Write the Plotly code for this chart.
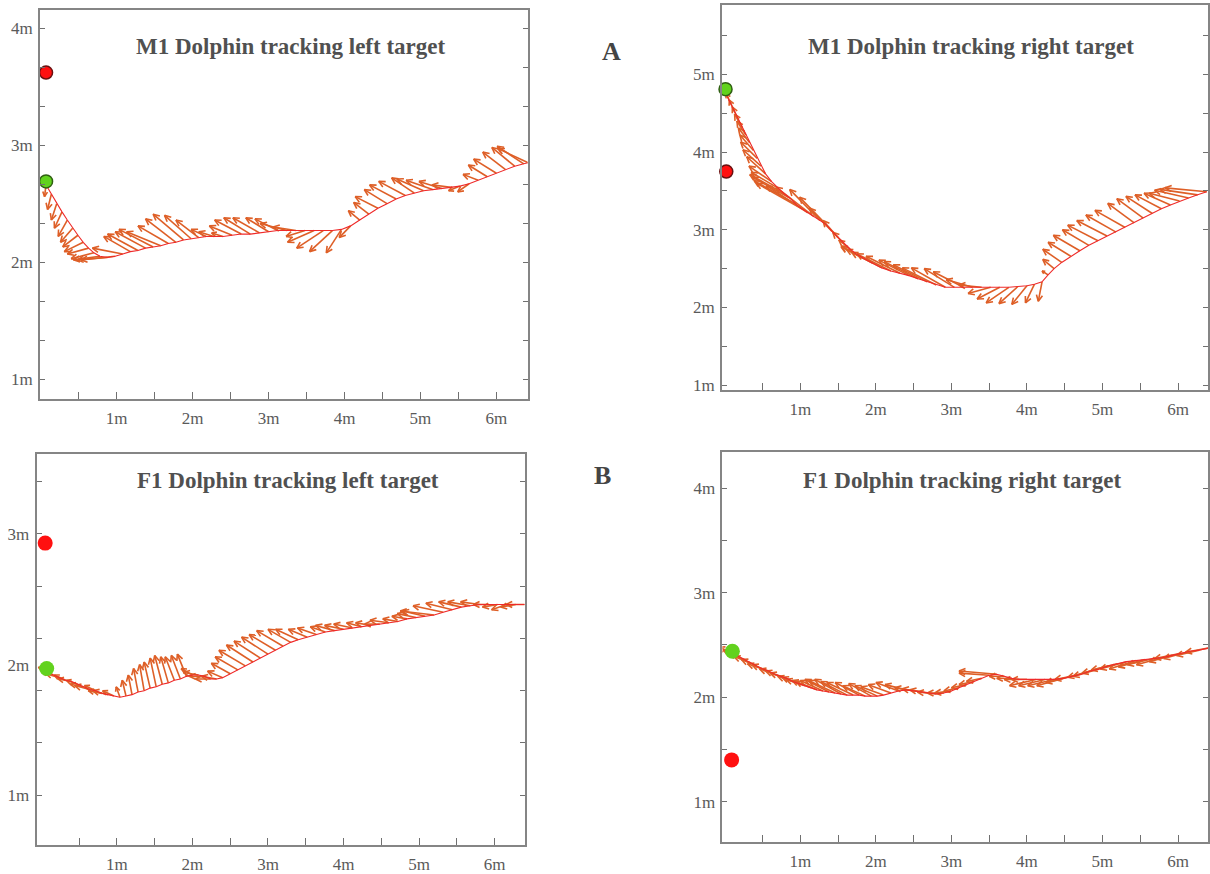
import math
import plotly.graph_objects as go

# ---------------- DATA ----------------
# Panel A-left: M1 Dolphin tracking left target
m1l_x = [0.07,0.14,0.21,0.28,0.35,0.42,0.49,0.56,0.63,0.70,0.78,0.88,0.98,1.08,1.18,1.28,1.38,1.48,1.58,1.68,
         1.78,1.88,1.98,2.08,2.18,2.28,2.40,2.52,2.64,2.76,2.88,3.00,3.12,3.24,3.36,3.48,3.60,3.72,3.84,3.96,
         4.08,4.20,4.32,4.44,4.56,4.68,4.80,4.92,5.04,5.16,5.28,5.40,5.52,5.64,5.76,5.88,6.00,6.12,6.24,6.36,6.42]
m1l_y = [2.66,2.58,2.50,2.43,2.36,2.29,2.23,2.17,2.12,2.08,2.05,2.04,2.05,2.07,2.09,2.10,2.12,2.13,2.14,2.16,
         2.17,2.19,2.20,2.21,2.22,2.22,2.22,2.23,2.24,2.24,2.25,2.26,2.27,2.27,2.27,2.27,2.27,2.27,2.27,2.28,
         2.31,2.36,2.41,2.46,2.50,2.54,2.57,2.59,2.61,2.62,2.63,2.64,2.65,2.67,2.70,2.73,2.76,2.79,2.82,2.84,2.85]
m1l_u = [-0.02,-0.05,-0.07,-0.10,-0.12,-0.16,-0.20,-0.25,-0.28,-0.30,-0.35,-0.40,-0.45,-0.40,-0.35,-0.40,-0.40,-0.45,-0.45,-0.40,
         -0.40,-0.40,-0.35,-0.30,-0.20,-0.20,-0.15,-0.30,-0.35,-0.35,-0.35,-0.30,-0.30,-0.35,-0.30,-0.25,-0.35,-0.35,-0.30,-0.20,
         -0.15,-0.15,-0.20,-0.30,-0.30,-0.35,-0.35,-0.30,-0.35,-0.35,-0.30,-0.25,-0.15,-0.15,-0.20,-0.25,-0.30,-0.30,-0.30,-0.35,-0.40]
m1l_v = [-0.10,-0.13,-0.14,-0.14,-0.14,-0.12,-0.10,-0.08,-0.05,-0.05,-0.03,-0.02,-0.03,0.05,0.13,0.14,0.14,0.15,0.12,0.15,
         0.20,0.22,0.20,0.15,0.06,0.04,0.03,0.08,0.12,0.14,0.13,0.12,0.10,0.06,0.03,-0.05,-0.10,-0.15,-0.18,-0.20,
         -0.10,0.08,0.10,0.10,0.12,0.12,0.12,0.13,0.10,0.08,0.06,0.02,-0.04,-0.07,0.05,0.10,0.12,0.15,0.16,0.15,0.12]
m1l_start = (0.07, 2.69)
m1l_target = (0.07, 3.62)

# Panel A-right: M1 Dolphin tracking right target
m1r_x = [0.03,0.08,0.13,0.18,0.23,0.28,0.33,0.38,0.43,0.48,0.54,0.62,0.70,0.78,0.86,0.94,1.02,1.10,1.18,1.26,
         1.34,1.42,1.50,1.58,1.66,1.74,1.84,1.96,2.08,2.20,2.32,2.44,2.56,2.68,2.80,2.92,3.04,3.16,3.28,3.40,
         3.52,3.64,3.76,3.88,4.00,4.10,4.20,4.28,4.36,4.46,4.58,4.70,4.82,4.94,5.06,5.18,5.30,5.42,5.54,5.66,
         5.78,5.90,6.02,6.14,6.26,6.38]
m1r_y = [4.72,4.62,4.52,4.42,4.32,4.22,4.12,4.02,3.92,3.82,3.72,3.62,3.54,3.47,3.41,3.33,3.27,3.22,3.17,3.12,
         3.07,2.98,2.90,2.82,2.75,2.69,2.63,2.57,2.51,2.47,2.44,2.41,2.37,2.33,2.29,2.26,2.26,2.26,2.26,2.26,
         2.26,2.26,2.26,2.27,2.28,2.30,2.33,2.42,2.50,2.58,2.66,2.73,2.80,2.86,2.92,2.97,3.03,3.09,3.15,3.21,
         3.27,3.32,3.37,3.41,3.45,3.49]
m1r_u = [-0.05,-0.06,-0.07,-0.08,-0.10,-0.12,-0.15,-0.18,-0.22,-0.24,-0.25,-0.30,-0.35,-0.45,-0.50,-0.55,-0.60,-0.55,-0.50,-0.40,
         -0.35,-0.30,-0.20,-0.15,-0.15,-0.20,-0.30,-0.35,-0.40,-0.45,-0.45,-0.40,-0.45,-0.45,-0.45,-0.45,-0.40,-0.40,-0.35,-0.30,
         -0.30,-0.30,-0.30,-0.25,-0.20,-0.12,-0.05,-0.08,-0.15,-0.25,-0.30,-0.35,-0.35,-0.40,-0.40,-0.40,-0.40,-0.35,-0.35,-0.35,
         -0.35,-0.35,-0.40,-0.45,-0.50,-0.55]
m1r_v = [0.12,0.14,0.15,0.16,0.17,0.18,0.19,0.20,0.21,0.21,0.22,0.20,0.20,0.24,0.27,0.30,0.33,0.35,0.38,0.40,
         0.35,0.30,0.22,0.15,0.12,0.10,0.15,0.18,0.20,0.22,0.22,0.20,0.22,0.22,0.22,0.25,0.24,0.20,0.10,0.03,
         -0.08,-0.15,-0.20,-0.22,-0.24,-0.24,-0.25,0.05,0.12,0.17,0.18,0.20,0.20,0.20,0.20,0.22,0.22,0.25,0.25,0.22,
         0.18,0.15,0.10,0.10,0.07,0.05]
m1r_start = (0.01, 4.81)
m1r_target = (0.02, 3.75)

# Panel B-left: F1 Dolphin tracking left target
f1l_x = [0.08,0.16,0.24,0.32,0.40,0.48,0.56,0.64,0.72,0.80,0.88,0.96,1.04,1.12,1.20,1.28,1.36,1.44,1.52,1.60,
         1.68,1.76,1.84,1.92,2.00,2.08,2.16,2.24,2.32,2.40,2.50,2.60,2.70,2.80,2.90,3.00,3.10,3.20,3.30,3.40,
         3.52,3.64,3.76,3.88,4.00,4.12,4.24,4.36,4.48,4.60,4.72,4.84,4.96,5.08,5.20,5.32,5.44,5.56,5.68,5.80,
         5.92,6.04,6.16,6.28,6.40]
f1l_y = [1.95,1.92,1.90,1.88,1.87,1.85,1.83,1.81,1.80,1.78,1.77,1.76,1.75,1.76,1.77,1.79,1.80,1.82,1.83,1.85,
         1.86,1.88,1.89,1.91,1.92,1.92,1.91,1.89,1.89,1.90,1.93,1.96,1.99,2.02,2.05,2.08,2.11,2.14,2.17,2.19,
         2.21,2.23,2.25,2.26,2.27,2.28,2.29,2.30,2.31,2.32,2.33,2.35,2.36,2.37,2.38,2.40,2.42,2.44,2.45,2.46,
         2.46,2.46,2.46,2.46,2.46]
f1l_u = [-0.12,-0.15,-0.18,-0.15,-0.18,-0.15,-0.18,-0.20,-0.15,-0.18,-0.20,-0.15,-0.05,-0.05,-0.05,-0.06,-0.06,-0.08,-0.08,-0.10,
         -0.10,-0.12,-0.12,-0.12,-0.15,-0.20,-0.20,-0.20,-0.20,-0.20,-0.25,-0.30,-0.35,-0.35,-0.35,-0.35,-0.35,-0.35,-0.30,-0.30,
         -0.25,-0.25,-0.20,-0.25,-0.25,-0.25,-0.20,-0.20,-0.20,-0.25,-0.20,-0.20,-0.25,-0.30,-0.45,-0.40,-0.35,-0.30,-0.30,-0.25,
         -0.20,-0.20,-0.20,-0.20,-0.25]
f1l_v = [0.03,0.02,0.03,0.04,0.02,0.03,0.02,0.03,0.04,0.02,0.03,0.04,0.08,0.12,0.15,0.18,0.20,0.20,0.22,0.22,
         0.20,0.18,0.18,0.17,0.05,0.02,0.00,0.00,0.02,0.05,0.08,0.10,0.12,0.13,0.13,0.13,0.12,0.12,0.10,0.08,
         0.06,0.05,0.04,0.04,0.03,0.03,0.03,0.02,0.00,0.02,0.02,0.02,0.03,0.04,0.03,0.05,0.05,0.04,0.03,0.02,
         0.00,-0.02,-0.04,-0.02,0.00]
f1l_start = (0.07, 1.97)
f1l_target = (0.05, 2.93)

# Panel B-right: F1 Dolphin tracking right target
f1r_x = [0.10,0.18,0.26,0.34,0.42,0.50,0.58,0.66,0.74,0.82,0.90,0.98,1.06,1.14,1.22,1.30,1.38,1.46,1.54,1.62,
         1.70,1.78,1.86,1.94,2.02,2.10,2.20,2.30,2.40,2.50,2.60,2.70,2.80,2.90,3.00,3.10,3.20,3.30,3.40,3.50,
         3.60,3.70,3.80,3.90,4.00,4.12,4.24,4.36,4.48,4.60,4.72,4.84,4.96,5.08,5.20,5.32,5.44,5.56,5.68,5.80,
         5.92,6.04,6.16,6.28,6.40]
f1r_y = [2.42,2.39,2.36,2.33,2.30,2.27,2.25,2.22,2.20,2.18,2.15,2.13,2.11,2.09,2.07,2.06,2.05,2.04,2.03,2.02,
         2.02,2.02,2.01,2.01,2.01,2.02,2.04,2.06,2.07,2.06,2.05,2.04,2.03,2.04,2.06,2.09,2.12,2.15,2.18,2.21,
         2.22,2.20,2.18,2.17,2.17,2.17,2.17,2.17,2.18,2.20,2.22,2.25,2.27,2.30,2.32,2.34,2.35,2.36,2.37,2.38,
         2.40,2.42,2.44,2.45,2.47]
f1r_u = [-0.18,-0.20,-0.20,-0.22,-0.20,-0.20,-0.22,-0.20,-0.20,-0.22,-0.20,-0.22,-0.25,-0.25,-0.28,-0.30,-0.32,-0.35,-0.35,-0.35,
         -0.35,-0.32,-0.30,-0.30,-0.30,-0.30,-0.30,-0.30,-0.28,-0.25,-0.25,-0.25,-0.25,-0.22,-0.22,-0.20,-0.20,-0.20,-0.20,-0.40,
         -0.50,-0.20,-0.20,-0.20,-0.20,-0.35,-0.35,-0.35,-0.35,-0.35,-0.35,-0.30,-0.35,-0.35,-0.35,-0.35,-0.35,-0.35,-0.35,-0.35,
         -0.30,-0.35,-0.35,-0.30,-0.30]
f1r_v = [0.06,0.06,0.06,0.06,0.06,0.05,0.06,0.05,0.05,0.05,0.05,0.06,0.06,0.07,0.08,0.10,0.12,0.12,0.14,0.13,
         0.12,0.12,0.10,0.12,0.10,0.08,0.08,0.08,0.05,0.03,0.03,0.03,0.02,0.00,-0.02,-0.03,-0.03,-0.03,-0.03,0.02,
         0.03,0.00,0.00,0.00,0.00,-0.06,-0.06,-0.06,-0.07,-0.06,-0.05,-0.06,-0.07,-0.07,-0.06,-0.07,-0.08,-0.07,-0.06,-0.07,
         -0.06,-0.05,-0.07,-0.05,-0.04]
f1r_start = (0.10, 2.44)
f1r_target = (0.09, 1.40)

titles = ["M1 Dolphin tracking left target", "M1 Dolphin tracking right target",
          "F1 Dolphin tracking left target", "F1 Dolphin tracking right target"]
panel_letters = ["A", "B"]
x_tick_labels = ["1m", "2m", "3m", "4m", "5m", "6m"]

# ---------------- LAYOUT CONFIG ----------------
W, H = 1210, 874
ARROW_COL = "#de5f27"
PATH_COL = "#ef2a2a"
AXIS_COL = "#858585"
TXT_COL = "#5a5a5a"
SERIF = "Liberation Serif"

panels = [
    dict(data=(m1l_x, m1l_y, m1l_u, m1l_v), start=m1l_start, target=m1l_target,
         xdom=[40/W, 528/W], ydom=[1-403.3/H, 1-10/H], xr=[-0.01, 6.41], yr=[0.83, 4.155],
         yticks=[1+i/3 for i in range(10)], ylabels=[1, 2, 3, 4], title_xy=(291.5, 46.7), outline=True),
    dict(data=(m1r_x, m1r_y, m1r_u, m1r_v), start=m1r_start, target=m1r_target,
         xdom=[722.5/W, 1209/W], ydom=[1-394/H, 1-5/H], xr=[-0.038, 6.397], yr=[0.939, 5.894],
         yticks=[1+0.5*i for i in range(10)], ylabels=[1, 2, 3, 4, 5], title_xy=(972, 46.7), outline=True),
    dict(data=(f1l_x, f1l_y, f1l_u, f1l_v), start=f1l_start, target=f1l_target,
         xdom=[37.2/W, 525/W], ydom=[1-853.3/H, 1-458.3/H], xr=[-0.056, 6.397], yr=[0.623, 3.615],
         yticks=[1+0.4*i for i in range(7)], ylabels=[1, 2, 3], title_xy=(288.4, 485), outline=False),
    dict(data=(f1r_x, f1r_y, f1r_u, f1r_v), start=f1r_start, target=f1r_target,
         xdom=[723/W, 1209/W], ydom=[1-850.7/H, 1-456.7/H], xr=[-0.032, 6.397], yr=[0.615, 4.346],
         yticks=[1+0.5*i for i in range(8)], ylabels=[1, 2, 3, 4], title_xy=(962.6, 485), outline=False),
]


def quiver_segments(xs, ys, us, vs, sx, sy, head=7.0, ang=26):
    """Build arrow line segments (shaft + two barbs) in data coordinates."""
    ox, oy = [], []
    a = math.radians(ang)
    for x, y, u, v in zip(xs, ys, us, vs):
        tx, ty = x + u, y + v
        pu, pv = u * sx, v * sy
        L = math.hypot(pu, pv)
        ox += [x, tx, None]
        oy += [y, ty, None]
        if L == 0:
            continue
        h = min(head, 0.45 * L)
        bx, by = -pu / L, -pv / L
        for s in (a, -a):
            rx = bx * math.cos(s) - by * math.sin(s)
            ry = bx * math.sin(s) + by * math.cos(s)
            ox += [tx, tx + rx * h / sx, None]
            oy += [ty, ty + ry * h / sy, None]
    return ox, oy


fig = go.Figure()
layout = dict(width=W, height=H, margin=dict(l=0, r=0, t=0, b=0),
              paper_bgcolor="white", plot_bgcolor="white", showlegend=False)
annotations = []

for i, p in enumerate(panels, start=1):
    xa = f"x{i}" if i > 1 else "x"
    ya = f"y{i}" if i > 1 else "y"
    xs, ys, us, vs = p["data"]
    sx = (p["xdom"][1] - p["xdom"][0]) * W / (p["xr"][1] - p["xr"][0])
    sy = (p["ydom"][1] - p["ydom"][0]) * H / (p["yr"][1] - p["yr"][0])
    ax_, ay_ = quiver_segments(xs, ys, us, vs, sx, sy)
    fig.add_trace(go.Scatter(x=ax_, y=ay_, mode="lines", xaxis=xa, yaxis=ya,
                             line=dict(color=ARROW_COL, width=1.6), hoverinfo="skip"))
    fig.add_trace(go.Scatter(x=xs, y=ys, mode="lines", xaxis=xa, yaxis=ya,
                             line=dict(color=PATH_COL, width=1.1), hoverinfo="skip"))
    if p["outline"]:
        g_line = dict(color="#2f5f12", width=1.5)
        r_line = dict(color="#6a1010", width=1.5)
        size = 13
    else:
        g_line = dict(width=0)
        r_line = dict(width=0)
        size = 15
    fig.add_trace(go.Scatter(x=[p["target"][0]], y=[p["target"][1]], mode="markers", xaxis=xa, yaxis=ya,
                             marker=dict(color="#ff1010", size=size, line=r_line), cliponaxis=False))
    fig.add_trace(go.Scatter(x=[p["start"][0]], y=[p["start"][1]], mode="markers", xaxis=xa, yaxis=ya,
                             marker=dict(color="#62d21e", size=size, line=g_line), cliponaxis=False))

    xkey = "xaxis" if i == 1 else f"xaxis{i}"
    ykey = "yaxis" if i == 1 else f"yaxis{i}"
    xt = [0.5 * k for k in range(1, 13)]
    tickfont = dict(family=SERIF, size=17, color=TXT_COL)
    layout[xkey] = dict(domain=p["xdom"], range=p["xr"], anchor=ya, showgrid=False, zeroline=False,
                        showline=True, linecolor=AXIS_COL, linewidth=1.6, mirror=True,
                        ticks="inside", ticklen=7, tickwidth=1.3, tickcolor="#707070",
                        tickmode="array", tickvals=xt,
                        ticktext=[x_tick_labels[k // 2 - 1] if k % 2 == 0 else "" for k in range(1, 13)],
                        tickfont=tickfont, ticklabelstandoff=3)
    same = all(any(abs(l - t) < 1e-9 for t in p["yticks"]) for l in p["ylabels"])
    if same:
        layout[ykey] = dict(domain=p["ydom"], range=p["yr"], anchor=xa, showgrid=False, zeroline=False,
                            showline=True, linecolor=AXIS_COL, linewidth=1.6, mirror="ticks",
                            ticks="inside", ticklen=5, tickwidth=1.3, tickcolor="#707070",
                            tickmode="array", tickvals=p["yticks"],
                            ticktext=[f"{round(t)}m" if any(abs(l - t) < 1e-9 for l in p["ylabels"]) else ""
                                      for t in p["yticks"]],
                            tickfont=tickfont, ticklabelstandoff=2)
    else:
        layout[ykey] = dict(domain=p["ydom"], range=p["yr"], anchor=xa, showgrid=False, zeroline=False,
                            showline=True, linecolor=AXIS_COL, linewidth=1.6, mirror="ticks",
                            ticks="inside", ticklen=5, tickwidth=1.3, tickcolor="#707070",
                            tickmode="array", tickvals=p["yticks"], showticklabels=False)
        layout["yaxis9"] = dict(overlaying=ya, range=p["yr"], anchor=xa, side="left", showgrid=False,
                                zeroline=False, showline=False, ticks="",
                                tickmode="array", tickvals=p["ylabels"],
                                ticktext=[f"{l}m" for l in p["ylabels"]],
                                tickfont=tickfont, ticklabelstandoff=7)
        fig.add_trace(go.Scatter(x=[None], y=[None], xaxis=xa, yaxis="y9", hoverinfo="skip"))
    annotations.append(dict(text=f"<b>{titles[i-1]}</b>", x=p["title_xy"][0] / W, y=1 - p["title_xy"][1] / H,
                            xref="paper", yref="paper", xanchor="center", yanchor="middle", showarrow=False,
                            font=dict(family=SERIF, size=23, color="#505050")))

annotations.append(dict(text=f"<b>{panel_letters[0]}</b>", x=612 / W, y=1 - 52 / H, xref="paper", yref="paper",
                        showarrow=False, xanchor="center", yanchor="middle",
                        font=dict(family=SERIF, size=26, color="#444444")))
annotations.append(dict(text=f"<b>{panel_letters[1]}</b>", x=603 / W, y=1 - 480 / H, xref="paper", yref="paper",
                        showarrow=False, xanchor="center", yanchor="middle",
                        font=dict(family=SERIF, size=26, color="#444444")))
layout["annotations"] = annotations
fig.update_layout(**layout)
fig.write_html("out.html", config={"displayModeBar": False},
               post_script="document.body.style.margin='0';document.body.style.overflow='hidden';")
